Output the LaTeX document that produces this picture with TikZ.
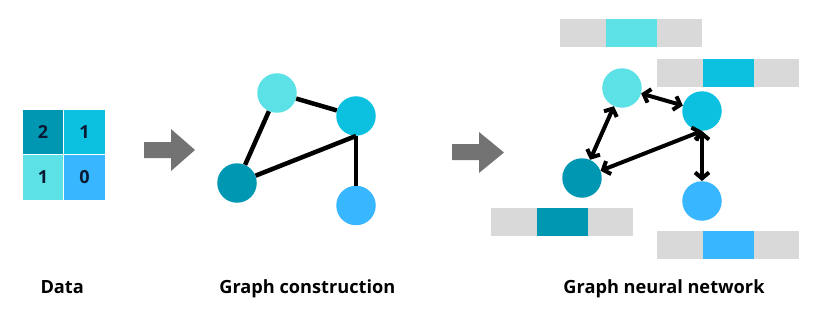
\documentclass[tikz,border=0pt]{standalone}
\usepackage{fontspec}
\setmainfont{Open Sans}
\usetikzlibrary{positioning,arrows.meta}

\definecolor{tealDark}{HTML}{0097B2}
\definecolor{tealMid}{HTML}{0CC0DF}
\definecolor{tealLight}{HTML}{5CE1E6}
\definecolor{skyBlue}{HTML}{38B6FF}
\definecolor{barGray}{HTML}{D9D9D9}
\definecolor{arrowGray}{HTML}{737373}
\definecolor{navyText}{HTML}{0B1A33}

\begin{document}
\begin{tikzpicture}[
        x=1pt, y=-1pt,
        cell/.style={minimum width=41.5pt, minimum height=45.5pt, inner sep=0pt, outer sep=0pt, draw=white, line width=0.6pt, font=\bfseries\fontsize{18}{18}\selectfont, text=navyText},
        vertex/.style={circle, minimum size=39.5pt, inner sep=0pt},
        seg/.style={minimum width=45.5pt, minimum height=28pt, inner sep=0pt, outer sep=0pt, fill=barGray},
        edge/.style={line width=4.5pt},
        flow/.style={line width=4pt, <->},
        caption/.style={anchor=base, font=\bfseries\fontsize{18.2}{20}\selectfont},
        blockarrow/.style={fill=arrowGray},
        >={Straight Barb[length=6pt,width=14pt]}
    ]
        \useasboundingbox (0,0) rectangle (825,321);

        % Data grid
        \node[cell, fill=tealDark] (c11) at (43,131.8) {2};
        \node[cell, fill=tealMid, right=0pt of c11] (c12) {1};
        \node[cell, fill=tealLight, below=0pt of c11] (c21) {1};
        \node[cell, fill=skyBlue, right=0pt of c21] (c22) {0};

        % Block arrows
        \fill[blockarrow] (144,142) -- (171,142) -- (171,129) -- (195,150) -- (171,171) -- (171,158) -- (144,158) -- cycle;
        \fill[blockarrow] (452,144) -- (479,144) -- (479,132) -- (504,152.5) -- (479,173) -- (479,160) -- (452,160) -- cycle;

        % Graph construction
        \node[vertex, fill=tealLight] (ga) at (277,93) {};
        \node[vertex, fill=tealMid] (gb) at (356,116) {};
        \node[vertex, fill=tealDark] (gc) at (237,183) {};
        \node[vertex, fill=skyBlue] (gd) at (356,205.5) {};

        \draw[edge] (ga) -- (gb);
        \draw[edge] (ga) -- (gc);
        \draw[edge] (gc) -- (gb.south);
        \draw[edge] (gb.south) -- (gd);

        % Feature bars
        \node[seg] (fa1) at (582.8,33) {};
        \node[seg, fill=tealLight, minimum width=51pt, right=0pt of fa1] (fa2) {};
        \node[seg, right=0pt of fa2] (fa3) {};

        \node[seg] (fb1) at (679.8,73) {};
        \node[seg, fill=tealMid, minimum width=51pt, right=0pt of fb1] (fb2) {};
        \node[seg, right=0pt of fb2] (fb3) {};

        \node[seg] (fc1) at (513.8,221.5) {};
        \node[seg, fill=tealDark, minimum width=51pt, right=0pt of fc1] (fc2) {};
        \node[seg, right=0pt of fc2] (fc3) {};

        \node[seg] (fd1) at (679.8,245) {};
        \node[seg, fill=skyBlue, minimum width=51pt, right=0pt of fd1] (fd2) {};
        \node[seg, right=0pt of fd2] (fd3) {};

        % Graph neural network
        \node[vertex, fill=tealLight] (na) at (622,88) {};
        \node[vertex, fill=tealMid] (nb) at (702,111) {};
        \node[vertex, fill=tealDark] (nc) at (582,178) {};
        \node[vertex, fill=skyBlue] (nd) at (702,201) {};

        \draw[flow] (na) -- (nb);
        \draw[flow] (na) -- (nc);
        \draw[flow] (nc) -- (nb.south);
        \draw[flow] (nb.south) -- (nd);

        % Captions
        \node[caption] (tdata) at (62.2,293) {Data};
        \node[caption] (tgraph) at (307.4,293) {Graph construction};
        \node[caption] (tgnn) at (664,293) {Graph neural network};
    \end{tikzpicture}
\end{document}
